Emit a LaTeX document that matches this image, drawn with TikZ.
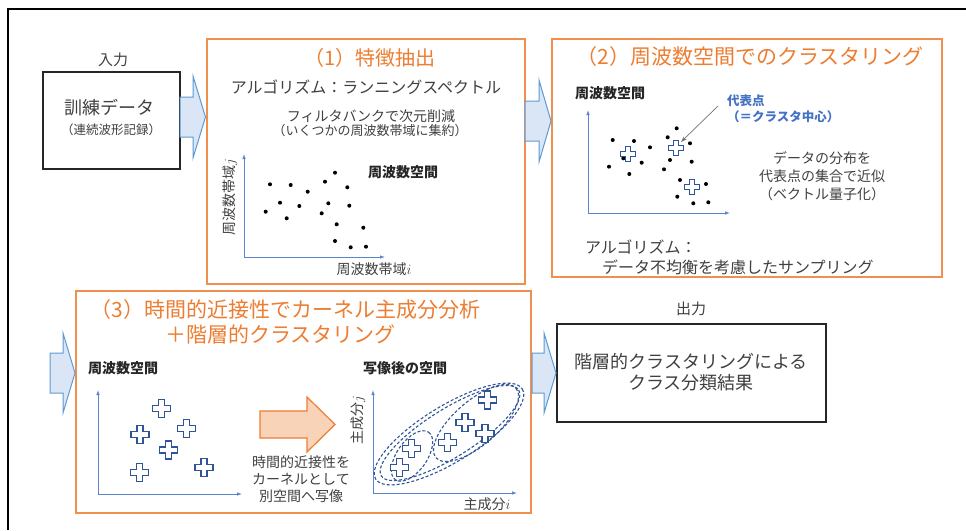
\documentclass[tikz,border=0pt]{standalone}
\usepackage{fontspec}
\setmainfont{Noto Sans CJK JP}
\usetikzlibrary{arrows.meta}
\definecolor{org}{HTML}{ED7D31}
\definecolor{orgline}{HTML}{F0904F}
\definecolor{orgfill}{HTML}{F9D3B8}
\definecolor{bluel}{HTML}{5B9BD5}
\definecolor{bluef}{HTML}{DAE6F5}
\definecolor{axisc}{HTML}{5B82CC}
\definecolor{crossc}{HTML}{2F5597}
\definecolor{txt}{HTML}{404040}
\definecolor{repc}{HTML}{4472C4}
\newcommand\fsz[2]{\fontsize{#1}{#2}\selectfont}
\newcommand\blockArrow[7][barrow]{%
  \draw[#1] (#2,{#5-#6}) -- (#3,{#5-#6}) -- (#3,{#5-#7}) -- (#4,#5) -- (#3,{#5+#7}) -- (#3,{#5+#6}) -- (#2,{#5+#6}) -- cycle;}
\tikzset{
  lbl/.style={inner sep=0pt, outer sep=0pt, text=txt},
  bold/.style={inner sep=0pt, outer sep=0pt, text=black!85, font=\bfseries\fsz{14}{17}},
  obox/.style={draw=orgline, line width=1.5pt, inner sep=0pt, outer sep=0pt},
  kbox/.style={draw=black!85, line width=1.3pt, inner sep=0pt, outer sep=0pt},
  barrow/.style={draw=bluel, fill=bluef, line width=1pt, line join=miter},
  oarrow/.style={draw=org, fill=orgfill, line width=1.2pt, line join=miter},
  axis/.style={draw=axisc, line width=0.8pt, -{Latex[length=5pt,width=3.5pt]}},
  dot/.style={fill=black},
  elld/.style={draw=crossc, line width=1.1pt, dash pattern=on 3pt off 2pt},
  ptr/.style={draw=black!55, line width=0.7pt, -{Stealth[length=6pt,width=4pt]}},
  pics/pluss/.style={code={
    \draw[crossc, line width=1.1pt, fill=white, line join=miter]
      ({-#1/3},{-#1}) -- ({#1/3},{-#1}) -- ({#1/3},{-#1/3}) -- ({#1},{-#1/3}) --
      ({#1},{#1/3}) -- ({#1/3},{#1/3}) -- ({#1/3},{#1}) -- ({-#1/3},{#1}) --
      ({-#1/3},{#1/3}) -- ({-#1},{#1/3}) -- ({-#1},{-#1/3}) -- ({-#1/3},{-#1/3}) -- cycle;}}
}
\begin{document}
\begin{tikzpicture}[x=1pt,y=-1pt]
\useasboundingbox[fill=white] (0,0) rectangle (966,530);
% outer frame (cropped)
\draw[line width=1.6pt, black] (8,530) -- (8,9) -- (966,9);

% ---------- input ----------
\node[lbl, font=\fsz{15}{18}] (inlbl) at (113,60) {入力};
\node[kbox, minimum width=137pt, minimum height=97pt] (inbox) at (111.5,120.5) {};
\node[lbl, font=\fsz{18}{22}] (intxt1) at (109,108) {訓練データ};
\node[lbl, font=\fsz{12.5}{15}] (intxt2) at (111,130) {（連続波形記録）};

% ---------- box 1 ----------
\node[obox, minimum width=318pt, minimum height=245pt] (box1) at (366,161.5) {};
\node[lbl, text=org, font=\fsz{20}{24}] (t1) at (370,58) {（1）特徴抽出};
\node[lbl, font=\fsz{16}{19}] (alg1) at (366,87) {アルゴリズム：ランニングスペクトル};
\node[lbl, font=\fsz{14}{17}] (fb1) at (371,116) {フィルタバンクで次元削減};
\node[lbl, font=\fsz{13}{16}] (fb2) at (370,131) {（いくつかの周波数帯域に集約）};
\coordinate (o1) at (244,257);
\draw[axis] (o1) -- (244,154);
\draw[axis] (o1) -- (385,257);
\node[bold] (fs1) at (403,172) {周波数空間};
\node[lbl, font=\fsz{14}{17}] (xl1) at (374,269) {周波数帯域$i$};
\node[lbl, font=\fsz{14}{17}, rotate=90] (yl1) at (230,197) {周波数帯域$j$};
\foreach \p in {(335,172.7),(270,184.3),(290.7,185),(325,181.7),(347.3,187.3),(307.7,191.7),(280,202.7),(299.3,206),(328.3,203.3),(349.3,205.7),(265.7,211.7),(286.7,218.3),(321.7,213.3),(336.7,224.3),(363.3,227.7),(335,241),(350.7,247.3),(366,246.7)}
  \fill[dot] \p circle (2);

% ---------- box 2 ----------
\node[obox, minimum width=390pt, minimum height=238pt] (box2) at (747,158) {};
\node[lbl, text=org, font=\fsz{21}{25}] (t2) at (750,57) {（2）周波数空間でのクラスタリング};
\node[bold] (fs2) at (610,93) {周波数空間};
\coordinate (o2) at (588,213);
\draw[axis] (o2) -- (588,110);
\draw[axis] (o2) -- (730,213);
\foreach \p in {(612.7,140),(634,141),(650,147.3),(623.3,158.3),(641.7,162.7),(609,166.7),(629.3,174),(667.7,137.3),(676.7,128.3),(690,143.3),(670,160),(664,169.3),(691.7,161.7),(680,180),(706,184),(677.3,196.7),(693.3,203.3),(708.3,202.3)}
  \fill[dot] \p circle (2);
\pic at (627.7,154) {pluss=7.5};
\pic at (676,148.3) {pluss=7.5};
\pic at (691.7,186.7) {pluss=7.5};
\node[lbl, anchor=west, text=repc, font=\bfseries\fsz{12.5}{15}] (rep1) at (727,101) {代表点};
\node[lbl, anchor=west, text=repc, font=\bfseries\fsz{12.5}{15}] (rep2) at (727,117) {（＝クラスタ中心）};
\coordinate (ptrS) at (718,106);
\coordinate (ptrE) at (681,142);
\draw[ptr] (ptrS) -- (ptrE);
\node[lbl, align=center, font=\fsz{14}{18}] (vq) at (822,176) {データの分布を\\代表点の集合で近似\\（ベクトル量子化）};
\node[lbl, anchor=west, font=\fsz{16}{19}] (alg2a) at (585,247) {アルゴリズム：};
\node[lbl, anchor=west, font=\fsz{16}{19}] (alg2b) at (602,267) {データ不均衡を考慮したサンプリング};

% ---------- box 3 ----------
\node[obox, minimum width=455pt, minimum height=222pt] (box3) at (303.5,402) {};
\node[lbl, text=org, font=\fsz{21}{25}] (t3a) at (285.5,310) {（3）時間的近接性でカーネル主成分分析};
\node[lbl, text=org, font=\fsz{21}{25}] (t3b) at (280.5,334) {＋階層的クラスタリング};
\node[bold] (fs3) at (123,368) {周波数空間};
\coordinate (o3) at (98,494);
\draw[axis] (o3) -- (98,390);
\draw[axis] (o3) -- (242,494);
\foreach \p in {(161.7,408.3),(140,434.3),(186.7,428.3),(168.3,450),(139.3,472.3),(204,467.7)}
  \pic at \p {pluss=9};
\blockArrow[oarrow]{260}{307}{335}{424.5}{13.5}{27.5}
\node[lbl, align=center, font=\fsz{14}{17}] (map) at (301,479) {時間的近接性を\\カーネルとして\\別空間へ写像};
\node[bold] (ms) at (405,368) {写像後の空間};
\coordinate (o4) at (373,493);
\draw[axis] (o4) -- (373,390);
\draw[axis] (o4) -- (517,493);
\node[lbl, font=\fsz{14}{17}] (xl4) at (487,504) {主成分$i$};
\node[lbl, font=\fsz{14}{17}, rotate=90] (yl4) at (358,420) {主成分$j$};
\draw[elld, shift={(449,434)}, rotate=31.5] (0,0) ellipse (86 and 28);
\draw[elld, shift={(450,433)}, rotate=32] (0,0) ellipse (81 and 24);
\draw[elld, shift={(476,423)}, rotate=41] (0,0) ellipse (53 and 22);
\draw[elld, shift={(412,456)}, rotate=55] (0,0) ellipse (29 and 15);
\foreach \p in {(487.7,400),(465,422.3),(485,433.3),(447.3,442.3),(411.7,448.3),(399.3,467.7)}
  \pic at \p {pluss=9};

% ---------- output ----------
\node[lbl, font=\fsz{15}{18}] (outlbl) at (691,309) {出力};
\node[kbox, minimum width=269pt, minimum height=98pt] (outbox) at (691.5,373) {};
\node[lbl, align=center, font=\fsz{18}{21}] (outtxt) at (691,372.5) {階層的クラスタリングによる\\クラス分類結果};

% ---------- block arrows ----------
\blockArrow{180}{193}{205.5}{117}{20}{41}
\blockArrow{525}{539}{551}{121}{20}{41}
\blockArrow{50}{63}{75}{373}{20}{40}
\blockArrow{532}{544}{556}{373}{20}{40}
\end{tikzpicture}
\end{document}
